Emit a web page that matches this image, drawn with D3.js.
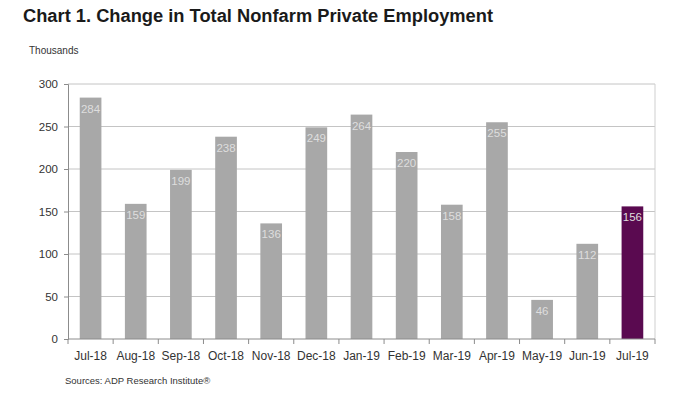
<!DOCTYPE html>
<html>
<head>
<meta charset="utf-8">
<script src="https://cdn.jsdelivr.net/npm/d3@7"></script>
<style>
  body { margin: 0; background: #fff; }
  text { font-family: "Liberation Sans", Arial, sans-serif; }
</style>
</head>
<body>
<svg id="chart"></svg>
<script>
const months = ['Jul-18', 'Aug-18', 'Sep-18', 'Oct-18', 'Nov-18', 'Dec-18', 'Jan-19',
  'Feb-19', 'Mar-19', 'Apr-19', 'May-19', 'Jun-19', 'Jul-19'];
const jobs = [284, 159, 199, 238, 136, 249, 264, 220, 158, 255, 46, 112, 156];
const yTicks = [0, 50, 100, 150, 200, 250, 300];

const width = 696, height = 409;
const margin = { top: 84, right: 41, bottom: 70, left: 68 };
const innerW = width - margin.left - margin.right;
const innerH = height - margin.top - margin.bottom;

const svg = d3.select('#chart').attr('width', width).attr('height', height);

svg.append('text')
  .attr('x', 23).attr('y', 22)
  .attr('font-size', 18.3).attr('font-weight', 'bold').attr('fill', '#1a1a1a')
  .text('Chart 1. Change in Total Nonfarm Private Employment');

svg.append('text')
  .attr('x', 29).attr('y', 54)
  .attr('font-size', 10).attr('fill', '#333')
  .text('Thousands');

const g = svg.append('g')
  .attr('transform', `translate(${margin.left},${margin.top})`);

const x = d3.scaleBand().domain(months).range([0, innerW]).paddingInner(0.52).paddingOuter(0.26);
const y = d3.scaleLinear().domain([0, 300]).range([innerH, 0]);

// gridlines
g.selectAll('.grid').data(yTicks.slice(1)).join('line')
  .attr('x1', 0).attr('x2', innerW)
  .attr('y1', d => y(d)).attr('y2', d => y(d))
  .attr('stroke', '#c4c4c4').attr('stroke-width', 1);

// right border
g.append('line')
  .attr('x1', innerW).attr('x2', innerW).attr('y1', 0).attr('y2', innerH)
  .attr('stroke', '#cfcfcf');

// bars
g.selectAll('.bar').data(jobs).join('rect')
  .attr('x', (d, i) => x(months[i]))
  .attr('width', x.bandwidth())
  .attr('y', d => y(d))
  .attr('height', d => innerH - y(d))
  .attr('fill', (d, i) => i === jobs.length - 1 ? '#5a0a50' : '#a8a8a8');

// value labels
g.selectAll('.val').data(jobs).join('text')
  .attr('x', (d, i) => x(months[i]) + x.bandwidth() / 2)
  .attr('y', d => y(d) + 15)
  .attr('text-anchor', 'middle')
  .attr('font-size', 11.5).attr('fill', '#dedede')
  .text(d => d);

// y axis
const yAxis = g.append('g')
  .call(d3.axisLeft(y).tickValues(yTicks).tickSize(4).tickPadding(6));
yAxis.select('.domain').attr('stroke', '#8c8c8c');
yAxis.selectAll('line').attr('stroke', '#8c8c8c');
yAxis.selectAll('text').attr('font-size', 11.5).attr('fill', '#333')
  .style('font-family', '"Liberation Sans", Arial, sans-serif');

// x axis: ticks at band edges
const xAxisG = g.append('g').attr('transform', `translate(0,${innerH})`);
xAxisG.append('line').attr('x1', 0).attr('x2', innerW)
  .attr('stroke', '#8c8c8c');
const edges = d3.range(months.length + 1).map(i => i * innerW / months.length);
xAxisG.selectAll('.tk').data(edges).join('line')
  .attr('x1', d => d).attr('x2', d => d).attr('y1', 0).attr('y2', 5)
  .attr('stroke', '#8c8c8c');
xAxisG.selectAll('.lbl').data(months).join('text')
  .attr('x', d => x(d) + x.bandwidth() / 2)
  .attr('y', 21)
  .attr('text-anchor', 'middle')
  .attr('font-size', 12).attr('fill', '#333')
  .text(d => d);

svg.append('text')
  .attr('x', 65).attr('y', 384)
  .attr('font-size', 9.5).attr('fill', '#333')
  .text('Sources: ADP Research Institute®');
</script>
</body>
</html>
